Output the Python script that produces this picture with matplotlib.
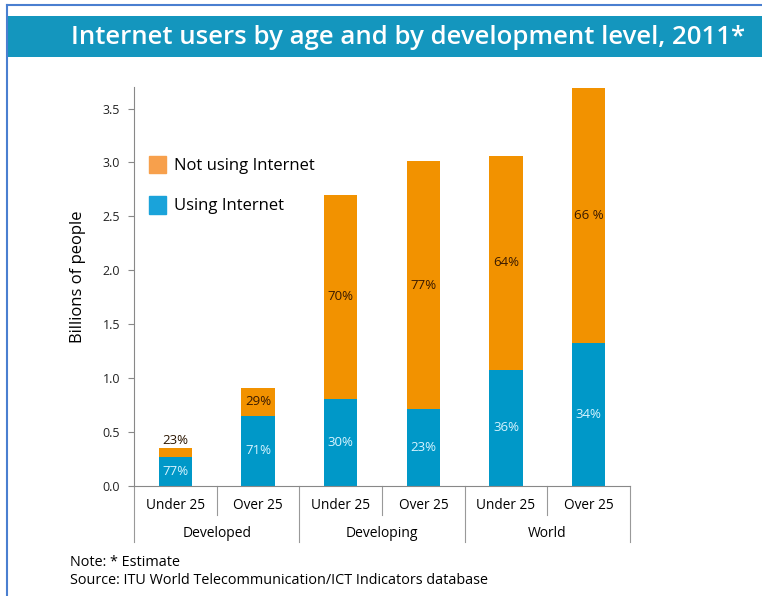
import matplotlib.pyplot as plt
from matplotlib.patches import Rectangle, Patch
import numpy as np

plt.rcParams['font.family'] = ['Open Sans', 'DejaVu Sans']

groups = ['Developed', 'Developing', 'World']
ages = ['Under 25', 'Over 25', 'Under 25', 'Over 25', 'Under 25', 'Over 25']
using = [0.27, 0.65, 0.81, 0.71, 1.08, 1.33]
total = [0.35, 0.91, 2.70, 3.01, 3.06, 3.69]
using_pct = ['77%', '71%', '30%', '23%', '36%', '34%']
not_pct = ['23%', '29%', '70%', '77%', '64%', '66 %']

not_using = [t - u for t, u in zip(total, using)]

blue = '#0098C8'
orange = '#F29200'

fig = plt.figure(figsize=(7.62, 5.96), dpi=100)

# frame and title banner
fig.add_artist(plt.Line2D([7/762, 7/762], [0, 1 - 5/596], color='#4A7FD0', lw=1.5))
fig.add_artist(plt.Line2D([7/762, 1], [1 - 5/596, 1 - 5/596], color='#4A7FD0', lw=1.5))
fig.add_artist(Rectangle((8/762, 1 - 57/596), 1, 41/596, transform=fig.transFigure,
                         color='#1496BE', lw=0))
fig.text(408/762, 1 - 37/596, 'Internet users by age and by development level, 2011*',
         color='white', fontsize=18.5, fontweight='semibold', ha='center', va='center')

ax = fig.add_axes([134/762, 1 - 486/596, (630 - 134)/762, (486 - 87)/596])
x = np.arange(len(ages))
ax.bar(x, using, width=0.4, color=blue, label='Using Internet')
ax.bar(x, not_using, width=0.4, bottom=using, color=orange, label='Not using Internet')

for i in range(len(ages)):
    ax.text(x[i], using[i] / 2, using_pct[i], ha='center', va='center',
            color='#D8F4FF', fontsize=9.5)
    if not_using[i] < 0.15:
        ax.text(x[i], total[i] + 0.01, not_pct[i], ha='center', va='bottom',
                color='#2A1500', fontsize=9.5)
    else:
        ax.text(x[i], (using[i] + total[i]) / 2, not_pct[i], ha='center', va='center',
                color='#3A1A00', fontsize=9.5)

ax.set_xlim(-0.5, 5.5)
ax.set_ylim(0, 3.7)
ax.set_yticks([0, 0.5, 1.0, 1.5, 2.0, 2.5, 3.0, 3.5])
ax.set_yticklabels(['0.0', '0.5', '1.0', '1.5', '2.0', '2.5', '3.0', '3.5'])
ax.set_xticks([])
ax.tick_params(axis='y', labelsize=9, length=4, color='#888888', labelcolor='#222222', pad=6)
for s in ['top', 'right']:
    ax.spines[s].set_visible(False)
ax.spines['left'].set_color('#888888')
ax.spines['bottom'].set_color('#888888')
ax.set_ylabel('Billions of people', fontsize=12)
ax.yaxis.set_label_coords(-0.097, 0.525)

# category labels and separators below the axis
trans = ax.get_xaxis_transform()
for i, a in enumerate(ages):
    ax.text(x[i], -0.048, a, transform=trans, ha='center', va='center', fontsize=9.8)
for j, g in enumerate(groups):
    ax.text(2 * j + 0.5, -0.118, g, transform=trans, ha='center', va='center', fontsize=10)
for b in [-0.5, 1.5, 3.5, 5.5]:
    ax.plot([b, b], [0, -0.14], transform=trans, color='#999999', lw=0.8, clip_on=False)
for b in [0.5, 2.5, 4.5]:
    ax.plot([b, b], [0, -0.073], transform=trans, color='#999999', lw=0.8, clip_on=False)

handles = [Patch(color='#F7A04C', label='Not using Internet'),
           Patch(color='#1AA3DA', label='Using Internet')]
ax.legend(handles=handles, loc='upper left', bbox_to_anchor=(0.0, 0.865), frameon=False,
          fontsize=12, handlelength=1.0, handleheight=1.25, labelspacing=1.3,
          handletextpad=0.5)

fig.text(70/762, 1 - 563/596, 'Note: * Estimate', fontsize=10.4, va='center')
fig.text(70/762, 1 - 580/596, 'Source: ITU World Telecommunication/ICT Indicators database',
         fontsize=10.4, va='center')

fig.savefig('out.png', dpi=100)
